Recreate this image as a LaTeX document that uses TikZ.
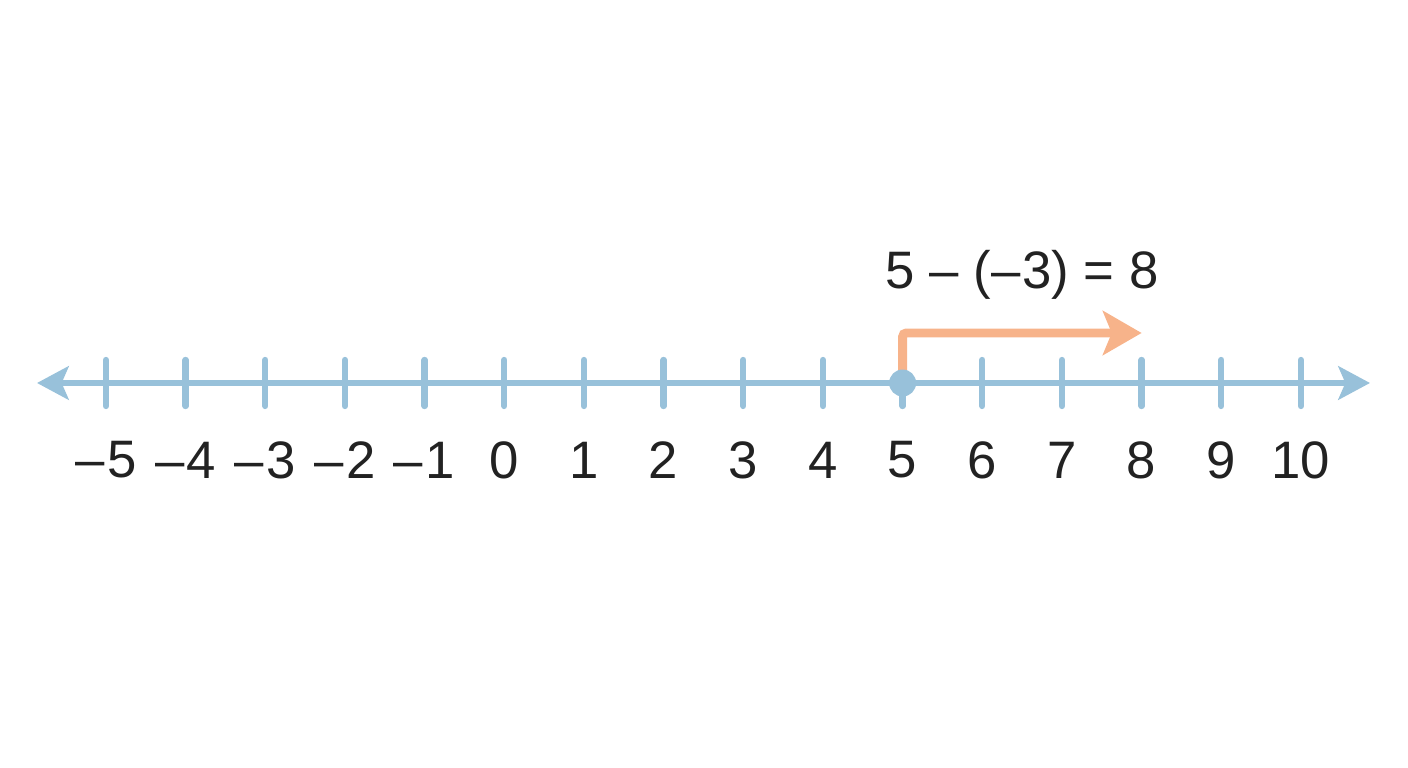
\documentclass[tikz,border=0pt]{standalone}
\usepackage{fontspec}
\setmainfont{Liberation Sans}
\usetikzlibrary{arrows.meta, positioning, calc}
\definecolor{lineblue}{HTML}{98C1DA}
\definecolor{steporange}{HTML}{F7B38A}
\definecolor{numblack}{HTML}{222222}
\tikzset{
  axisline/.style={lineblue, line width=3.4pt, {Stealth[length=18pt, width=19pt, inset=4pt]}-{Stealth[length=18pt, width=19pt, inset=4pt]}},
  tickline/.style={lineblue, line width=3.6pt, line cap=round},
  steparrow/.style={steporange, line width=5pt, rounded corners=2pt, -{Stealth[length=22pt, width=25pt, inset=5pt]}},
  numlabel/.style={text=numblack, font=\fontsize{30}{36}\selectfont, inner sep=0pt}
}
\begin{document}
\begin{tikzpicture}
      \useasboundingbox (0,0) rectangle (28.16,15.36);

      \coordinate (L) at (0.74,7.70);
      \coordinate (R) at (27.40,7.70);
      \draw[axisline] (L) -- (R);

      \foreach \n in {-5,...,10} {
        \coordinate (t\n) at ({10.086+1.5933*\n},7.70);
        \draw[tickline] ($(t\n)+(0,0.46)$) -- ($(t\n)+(0,-0.46)$);
        \node [numlabel] (l\n) at ($(t\n)+(0,-1.54)$) {\ifnum\n<0 –\kern1.5pt\the\numexpr-\n\relax\else\n\fi};
      }

      \coordinate (corner) at ($(t5)+(0,1.00)$);
      \coordinate (end) at ($(t8)+(0,1.00)$);
      \draw[steparrow] (t5) -- (corner) -- (end);
      \fill [lineblue] (t5) circle (0.27);

      \node [numlabel] (eq) at (20.44,9.86) {5 – (–\kern1pt3) = 8};
\end{tikzpicture}
\end{document}
